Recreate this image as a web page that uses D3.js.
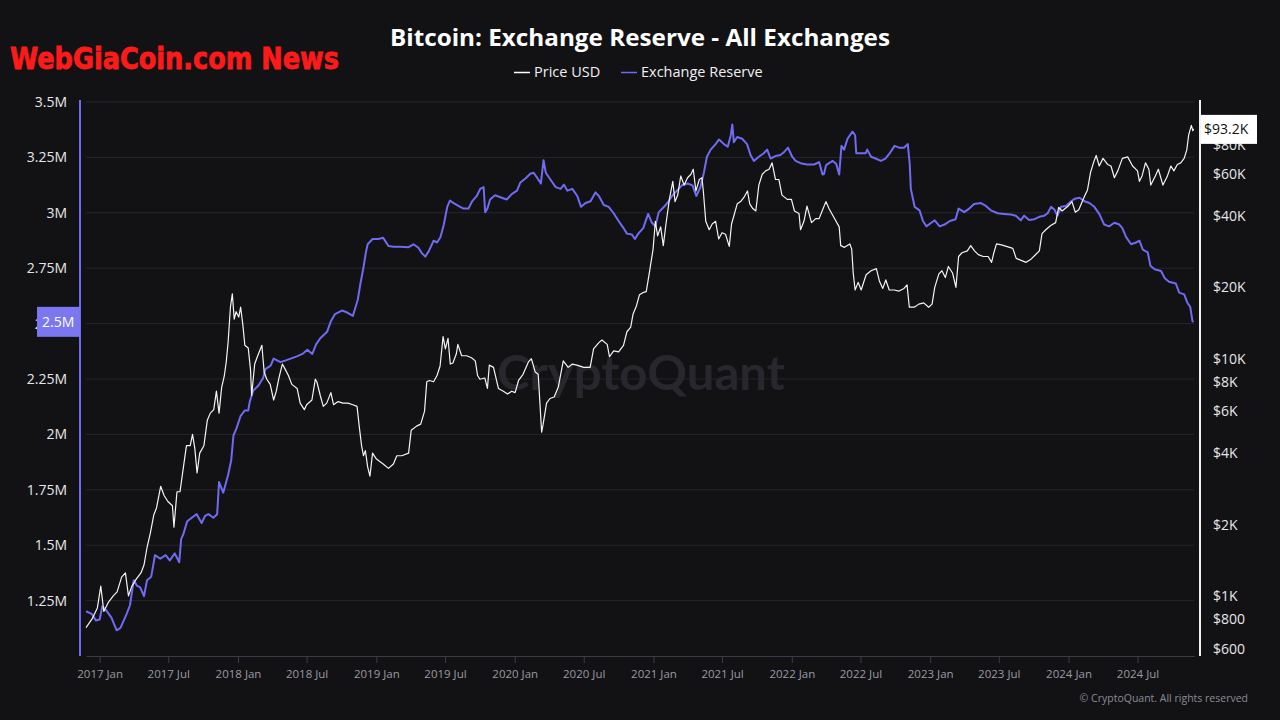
<!DOCTYPE html>
<html><head><meta charset="utf-8">
<script src="https://cdn.jsdelivr.net/npm/d3@7"></script>
<style>
html,body{margin:0;padding:0;background:#121215;}
svg{display:block;font-family:"Open Sans","Noto Sans",sans-serif;}
</style>
</head><body><svg id="chart" width="1280" height="720"></svg>
<script>
// ---------------- DATA ----------------
const reserveDates = ["2016-11-26","2016-12-12","2016-12-22","2017-01-01","2017-01-08","2017-01-19","2017-02-01","2017-02-15","2017-02-25","2017-03-13","2017-03-22","2017-04-01","2017-04-09","2017-04-18","2017-04-28","2017-05-06","2017-05-17","2017-05-27","2017-06-10","2017-06-24","2017-07-05","2017-07-18","2017-07-30","2017-08-04","2017-08-10","2017-08-20","2017-09-01","2017-09-14","2017-09-27","2017-10-06","2017-10-15","2017-10-28","2017-11-07","2017-11-12","2017-11-23","2017-12-06","2017-12-14","2017-12-20","2017-12-28","2018-01-08","2018-01-19","2018-01-28","2018-02-01","2018-02-10","2018-02-24","2018-03-08","2018-03-14","2018-03-28","2018-04-05","2018-04-23","2018-05-07","2018-05-20","2018-06-07","2018-06-20","2018-07-03","2018-07-16","2018-07-26","2018-08-06","2018-08-24","2018-09-03","2018-09-14","2018-10-02","2018-10-15","2018-10-31","2018-11-06","2018-11-13","2018-11-20","2018-11-28","2018-12-04","2018-12-09","2018-12-22","2019-01-06","2019-01-19","2019-02-02","2019-02-15","2019-03-05","2019-03-27","2019-04-09","2019-04-22","2019-05-01","2019-05-10","2019-05-19","2019-06-01","2019-06-10","2019-06-19","2019-06-28","2019-07-07","2019-07-14","2019-07-24","2019-08-02","2019-08-10","2019-08-19","2019-09-01","2019-09-10","2019-09-23","2019-10-02","2019-10-11","2019-10-15","2019-10-21","2019-10-28","2019-11-10","2019-11-28","2019-12-11","2019-12-24","2020-01-07","2020-01-16","2020-01-30","2020-02-11","2020-02-20","2020-03-01","2020-03-10","2020-03-17","2020-03-23","2020-04-05","2020-04-18","2020-05-01","2020-05-10","2020-05-19","2020-06-01","2020-06-14","2020-06-24","2020-07-06","2020-07-19","2020-08-01","2020-08-10","2020-08-23","2020-09-05","2020-09-18","2020-10-01","2020-10-14","2020-10-23","2020-11-05","2020-11-13","2020-11-22","2020-12-05","2020-12-18","2020-12-28","2021-01-06","2021-01-15","2021-01-29","2021-02-10","2021-02-19","2021-03-04","2021-03-17","2021-04-01","2021-04-14","2021-04-24","2021-05-05","2021-05-14","2021-05-22","2021-06-01","2021-06-14","2021-06-23","2021-07-06","2021-07-16","2021-07-24","2021-07-28","2021-08-01","2021-08-10","2021-08-23","2021-09-05","2021-09-14","2021-09-23","2021-10-06","2021-10-19","2021-10-28","2021-11-06","2021-11-19","2021-12-02","2021-12-11","2021-12-22","2022-01-02","2022-01-11","2022-01-24","2022-02-10","2022-03-01","2022-03-14","2022-03-23","2022-03-27","2022-04-01","2022-04-06","2022-04-19","2022-04-28","2022-05-06","2022-05-12","2022-05-19","2022-05-28","2022-06-10","2022-06-17","2022-06-20","2022-07-02","2022-07-15","2022-07-19","2022-07-29","2022-08-10","2022-08-24","2022-09-05","2022-09-18","2022-09-29","2022-10-11","2022-10-24","2022-11-03","2022-11-08","2022-11-11","2022-11-15","2022-11-21","2022-12-04","2022-12-13","2022-12-22","2023-01-04","2023-01-13","2023-01-26","2023-02-08","2023-02-22","2023-03-09","2023-03-17","2023-04-01","2023-04-14","2023-04-27","2023-05-15","2023-05-28","2023-06-10","2023-06-28","2023-07-15","2023-08-02","2023-08-15","2023-08-28","2023-09-06","2023-09-19","2023-10-03","2023-10-16","2023-10-29","2023-11-07","2023-11-16","2023-11-25","2023-12-03","2023-12-12","2023-12-25","2024-01-08","2024-01-17","2024-01-30","2024-02-12","2024-02-25","2024-03-09","2024-03-22","2024-04-04","2024-04-17","2024-05-01","2024-05-14","2024-05-22","2024-06-01","2024-06-14","2024-06-27","2024-07-06","2024-07-15","2024-07-28","2024-08-04","2024-08-15","2024-09-01","2024-09-11","2024-09-22","2024-10-10","2024-10-19","2024-11-01","2024-11-10","2024-11-17","2024-11-23","2024-11-26"];
const reserveValues = [1.202,1.189,1.160,1.165,1.224,1.205,1.173,1.116,1.127,1.189,1.229,1.342,1.318,1.310,1.270,1.342,1.358,1.455,1.439,1.455,1.431,1.463,1.423,1.527,1.551,1.608,1.624,1.640,1.600,1.632,1.640,1.624,1.640,1.785,1.737,1.818,1.882,1.995,2.027,2.084,2.108,2.108,2.148,2.197,2.221,2.253,2.294,2.310,2.342,2.326,2.334,2.342,2.353,2.363,2.382,2.363,2.406,2.434,2.463,2.511,2.543,2.559,2.551,2.535,2.568,2.608,2.681,2.753,2.818,2.858,2.882,2.882,2.887,2.850,2.847,2.847,2.845,2.858,2.842,2.818,2.802,2.826,2.874,2.866,2.890,2.947,3.027,3.055,3.044,3.035,3.027,3.019,3.019,3.050,3.076,3.108,3.116,3.003,3.019,3.060,3.079,3.068,3.060,3.084,3.100,3.137,3.156,3.176,3.181,3.156,3.132,3.237,3.181,3.148,3.116,3.108,3.127,3.100,3.108,3.076,3.027,3.044,3.052,3.092,3.076,3.035,3.027,2.998,2.963,2.931,2.906,2.902,2.882,2.906,2.931,2.995,2.955,2.939,3.003,3.027,3.052,3.076,3.100,3.124,3.132,3.124,3.076,3.116,3.181,3.253,3.285,3.310,3.331,3.310,3.298,3.350,3.398,3.318,3.342,3.334,3.310,3.261,3.234,3.253,3.269,3.285,3.245,3.256,3.261,3.273,3.294,3.253,3.234,3.224,3.218,3.218,3.229,3.173,3.175,3.213,3.221,3.234,3.221,3.173,3.302,3.285,3.334,3.366,3.350,3.269,3.269,3.269,3.285,3.253,3.245,3.234,3.245,3.273,3.302,3.294,3.294,3.310,3.221,3.108,3.076,3.027,3.011,2.963,2.939,2.955,2.966,2.939,2.947,2.963,2.971,3.019,3.003,3.019,3.040,3.044,3.031,3.011,2.998,2.995,2.992,2.987,2.966,2.987,2.968,2.971,2.982,2.987,2.998,3.027,3.014,2.987,3.027,3.031,3.052,3.063,3.068,3.052,3.044,3.027,2.995,2.947,2.939,2.955,2.947,2.931,2.890,2.858,2.866,2.874,2.834,2.821,2.761,2.745,2.737,2.705,2.689,2.681,2.640,2.632,2.592,2.576,2.511,2.508];

const priceDates = ["2016-11-26","2016-12-12","2016-12-26","2017-01-04","2017-01-12","2017-01-24","2017-02-06","2017-02-16","2017-02-28","2017-03-10","2017-03-18","2017-03-27","2017-04-08","2017-04-20","2017-04-28","2017-05-06","2017-05-15","2017-05-24","2017-05-31","2017-06-11","2017-06-20","2017-06-30","2017-07-12","2017-07-16","2017-07-24","2017-08-01","2017-08-09","2017-08-18","2017-08-28","2017-09-03","2017-09-09","2017-09-15","2017-09-22","2017-10-03","2017-10-12","2017-10-20","2017-10-29","2017-11-05","2017-11-12","2017-11-19","2017-11-26","2017-12-01","2017-12-06","2017-12-12","2017-12-17","2017-12-22","2017-12-27","2018-01-03","2018-01-08","2018-01-14","2018-01-19","2018-01-28","2018-02-03","2018-02-06","2018-02-14","2018-02-22","2018-03-05","2018-03-11","2018-03-18","2018-03-27","2018-04-05","2018-04-12","2018-04-19","2018-04-28","2018-05-06","2018-05-14","2018-05-23","2018-06-06","2018-06-14","2018-06-25","2018-07-01","2018-07-15","2018-07-24","2018-07-28","2018-08-06","2018-08-14","2018-08-23","2018-09-03","2018-09-10","2018-09-22","2018-10-05","2018-10-18","2018-10-31","2018-11-11","2018-11-18","2018-11-23","2018-11-28","2018-12-03","2018-12-09","2018-12-15","2018-12-22","2018-12-31","2019-01-09","2019-01-19","2019-02-02","2019-02-15","2019-02-24","2019-03-09","2019-03-27","2019-04-03","2019-04-17","2019-04-28","2019-05-08","2019-05-14","2019-05-21","2019-06-01","2019-06-10","2019-06-18","2019-06-26","2019-07-02","2019-07-09","2019-07-15","2019-07-22","2019-07-31","2019-08-04","2019-08-14","2019-08-27","2019-09-09","2019-09-19","2019-09-25","2019-10-01","2019-10-14","2019-10-21","2019-10-26","2019-11-06","2019-11-19","2019-12-02","2019-12-13","2019-12-24","2020-01-02","2020-01-11","2020-01-23","2020-02-06","2020-02-14","2020-02-24","2020-03-03","2020-03-12","2020-03-16","2020-03-25","2020-04-03","2020-04-14","2020-04-25","2020-05-08","2020-05-21","2020-06-01","2020-06-13","2020-07-01","2020-07-18","2020-07-27","2020-08-10","2020-08-18","2020-09-01","2020-09-07","2020-09-18","2020-10-01","2020-10-14","2020-10-23","2020-11-02","2020-11-08","2020-11-17","2020-11-25","2020-12-04","2020-12-13","2020-12-22","2020-12-31","2021-01-06","2021-01-12","2021-01-20","2021-01-27","2021-02-03","2021-02-12","2021-02-21","2021-02-27","2021-03-06","2021-03-14","2021-03-23","2021-04-01","2021-04-10","2021-04-16","2021-04-23","2021-05-02","2021-05-09","2021-05-13","2021-05-19","2021-05-28","2021-06-05","2021-06-14","2021-06-22","2021-07-01","2021-07-10","2021-07-20","2021-07-26","2021-08-01","2021-08-10","2021-08-19","2021-08-28","2021-09-06","2021-09-12","2021-09-20","2021-09-28","2021-10-06","2021-10-15","2021-10-24","2021-11-02","2021-11-10","2021-11-19","2021-11-28","2021-12-06","2021-12-20","2021-12-31","2022-01-08","2022-01-20","2022-01-24","2022-02-02","2022-02-10","2022-02-22","2022-03-05","2022-03-14","2022-03-22","2022-04-01","2022-04-09","2022-04-20","2022-05-06","2022-05-10","2022-05-20","2022-06-03","2022-06-08","2022-06-12","2022-06-17","2022-06-25","2022-07-03","2022-07-16","2022-07-29","2022-08-12","2022-08-20","2022-08-29","2022-09-06","2022-09-15","2022-09-28","2022-10-11","2022-10-24","2022-11-01","2022-11-07","2022-11-20","2022-12-02","2022-12-15","2022-12-28","2023-01-06","2023-01-13","2023-01-24","2023-02-01","2023-02-10","2023-02-18","2023-03-01","2023-03-10","2023-03-17","2023-03-26","2023-04-09","2023-04-18","2023-04-28","2023-05-08","2023-05-21","2023-06-03","2023-06-12","2023-06-18","2023-06-25","2023-07-08","2023-07-21","2023-08-07","2023-08-16","2023-08-29","2023-09-11","2023-09-24","2023-10-07","2023-10-16","2023-10-23","2023-11-02","2023-11-15","2023-11-28","2023-12-06","2023-12-15","2024-01-01","2024-01-10","2024-01-19","2024-01-28","2024-02-11","2024-02-20","2024-02-28","2024-03-08","2024-03-14","2024-03-22","2024-04-01","2024-04-13","2024-04-22","2024-05-01","2024-05-10","2024-05-22","2024-06-05","2024-06-18","2024-07-01","2024-07-06","2024-07-13","2024-07-22","2024-07-31","2024-08-05","2024-08-17","2024-08-25","2024-09-06","2024-09-17","2024-09-27","2024-10-05","2024-10-14","2024-10-23","2024-11-01","2024-11-08","2024-11-13","2024-11-20","2024-11-24","2024-11-26"];
const priceValues = [735,800,890,1100,860,940,1000,1040,1200,1250,1000,1100,1180,1250,1350,1600,1850,2200,2350,2900,2650,2500,2400,1950,2750,2750,3400,4300,4300,4800,4200,3300,4000,4300,5500,5900,6100,7300,5900,7600,8500,9700,11800,16500,18800,14700,15800,15000,16500,13800,11400,11100,9000,7000,9500,10300,11400,8800,8200,7800,6700,7300,8300,9500,9000,8500,7800,7500,6500,6100,6400,6700,8200,8000,7000,6300,6500,7200,6400,6600,6500,6500,6400,6300,5000,4300,3900,4100,3500,3200,4000,3800,3700,3600,3450,3600,3900,3900,4000,5000,5200,5300,6000,8000,8100,8000,8500,9300,12400,11000,12200,9500,9600,10500,11500,10300,10300,10100,9800,8500,8200,8300,7500,9400,9200,7500,7300,7100,7300,7200,8100,8600,9700,10000,8800,8600,4900,5300,6500,6800,6900,7600,9800,9200,9500,9400,9200,9200,11000,11700,12000,11500,10200,10800,10700,11400,13000,13600,15400,16700,18600,19000,19200,23500,29000,38000,33000,36000,30000,37000,47000,56000,46000,49000,59000,54000,58000,60000,63000,51000,57000,58000,50000,38000,35000,37000,38000,32000,34000,33500,29800,37000,40000,45000,46000,48000,51000,45000,43000,42000,54000,60000,62000,63000,67000,57000,57000,49000,47000,47000,42000,41000,35000,38000,44000,37500,39000,39000,42000,46000,43000,40000,36000,30000,29500,30500,29000,23000,19500,21000,19500,22600,23500,24000,21300,19800,21500,19500,19500,19300,19800,20500,16500,16500,17000,17200,16500,17000,20000,22800,23500,22000,24500,23000,20000,27000,28000,28500,30000,28500,27500,27000,27000,25500,28000,30500,30200,29800,29200,26500,26000,25500,26300,27600,28500,33700,35000,36500,37500,43500,42000,44200,46000,41500,42500,48000,51500,61000,68000,72000,65000,70000,66000,65000,58000,62000,70000,71000,65000,62000,56000,59000,67000,63000,54000,59000,63000,54000,58500,65000,62000,66000,67000,70000,76000,88000,96500,91500,93200];

const reserveTicks = [1.25,1.5,1.75,2,2.25,2.5,2.75,3,3.25,3.5];
const priceTicks = [600,800,1000,2000,4000,6000,8000,10000,20000,40000,60000,80000];
const timeTicks = ["2017-01-01","2017-07-01","2018-01-01","2018-07-01","2019-01-01","2019-07-01","2020-01-01","2020-07-01","2021-01-01","2021-07-01","2022-01-01","2022-07-01","2023-01-01","2023-07-01","2024-01-01","2024-07-01"];
const seriesNames = ["Price USD","Exchange Reserve"];

// ---------------- CHART ----------------
const parse = d3.utcParse("%Y-%m-%d");
const svg = d3.select("#chart");
const W = 1280, H = 720;
const plot = {left: 86, right: 1194, top: 102, bottom: 656};
const BLUE = "#6f6bf3", BG = "#121215";

svg.append("rect").attr("width", W).attr("height", H).attr("fill", BG);

const x = d3.scaleUtc()
  .domain([parse("2016-11-26"), parse("2024-11-27")])
  .range([plot.left, plot.right]);
const yL = d3.scaleLinear().domain([1.0, 3.5]).range([plot.bottom, plot.top]);
const yR = d3.scaleLog().domain([558, 121000]).range([plot.bottom, plot.top]);

// grid
svg.append("g").selectAll("line").data(reserveTicks).join("line")
  .attr("x1", plot.left).attr("x2", plot.right)
  .attr("y1", d => yL(d)).attr("y2", d => yL(d))
  .attr("stroke", "#25252b").attr("stroke-width", 1);

// watermark
svg.append("text").attr("x", 641).attr("y", 390).attr("text-anchor", "middle")
  .attr("font-family", "Lato, 'Open Sans', sans-serif").attr("font-weight", 700)
  .attr("font-size", 48).attr("fill", "#27272d")
  .attr("textLength", 288).attr("lengthAdjust", "spacingAndGlyphs")
  .text("CryptoQuant");

// bottom axis
const xAxis = d3.axisBottom(x)
  .tickValues(timeTicks.map(parse))
  .tickFormat(d3.utcFormat("%Y %b"))
  .tickSize(7).tickSizeOuter(0);
const gx = svg.append("g").attr("transform", `translate(0,${plot.bottom})`).call(xAxis);
gx.select(".domain").attr("stroke", "#3c3c46");
gx.selectAll(".tick line").attr("stroke", "#3c3c46");
gx.selectAll(".tick text").attr("fill", "#9a9aa2").attr("font-size", 11.5)
  .attr("font-family", "'Open Sans', sans-serif").attr("dy", "1.05em");

// left axis
const yAxisL = d3.axisLeft(yL).tickValues(reserveTicks).tickFormat(d => d + "M").tickSize(0);
const gl = svg.append("g").attr("transform", "translate(80,0)").call(yAxisL);
gl.select(".domain").remove();
gl.selectAll(".tick text").attr("fill", "#e6e6e6").attr("font-size", 14)
  .attr("font-family", "'Open Sans', sans-serif").attr("x", -13);
svg.append("line").attr("x1", 80).attr("x2", 80).attr("y1", 100).attr("y2", plot.bottom)
  .attr("stroke", BLUE).attr("stroke-width", 2);

// right axis
const fmtPrice = v => v >= 1000 ? "$" + (v / 1000) + "K" : "$" + v;
const yAxisR = d3.axisRight(yR).tickValues(priceTicks).tickFormat(fmtPrice).tickSize(0);
const gr = svg.append("g").attr("transform", "translate(1200,0)").call(yAxisR);
gr.select(".domain").remove();
gr.selectAll(".tick text").attr("fill", "#e6e6e6").attr("font-size", 14)
  .attr("font-family", "'Open Sans', sans-serif").attr("x", 13);
svg.append("line").attr("x1", 1200).attr("x2", 1200).attr("y1", 100).attr("y2", plot.bottom)
  .attr("stroke", "#f2f2f2").attr("stroke-width", 2);

// lines
const reserve = reserveDates.map((d, i) => ({t: parse(d), v: reserveValues[i]}));
const price = priceDates.map((d, i) => ({t: parse(d), v: priceValues[i]}));

svg.append("path").datum(reserve)
  .attr("d", d3.line().x(d => x(d.t)).y(d => yL(d.v)))
  .attr("fill", "none").attr("stroke", BLUE).attr("stroke-width", 2).attr("stroke-linejoin", "round");
svg.append("path").datum(price)
  .attr("d", d3.line().x(d => x(d.t)).y(d => yR(d.v)))
  .attr("fill", "none").attr("stroke", "#f4f4f4").attr("stroke-width", 1.2).attr("stroke-linejoin", "round");

// last value badges
const lastR = reserve[reserve.length - 1];
const yr = yL(lastR.v);
svg.append("rect").attr("x", 37).attr("y", yr - 15).attr("width", 43).attr("height", 30).attr("fill", "#7a77f0");
svg.append("text").attr("x", 42).attr("y", yr + 5).attr("fill", "#ffffff").attr("font-size", 14)
  .text(d3.format(".1f")(lastR.v) + "M");

const lastP = price[price.length - 1];
const yp = yR(lastP.v);
svg.append("rect").attr("x", 1201).attr("y", yp - 14).attr("width", 56).attr("height", 29).attr("fill", "#ffffff");
svg.append("text").attr("x", 1204).attr("y", yp + 5).attr("fill", "#111").attr("font-size", 14)
  .text("$" + d3.format(".1f")(lastP.v / 1000) + "K");

// title
svg.append("text").attr("x", 640).attr("y", 46).attr("text-anchor", "middle")
  .attr("fill", "#ffffff").attr("font-weight", 700).attr("font-size", 23)
  .attr("textLength", 500).attr("lengthAdjust", "spacingAndGlyphs")
  .text("Bitcoin: Exchange Reserve - All Exchanges");

// legend
const legendItems = [{name: seriesNames[0], color: "#ffffff", x: 514}, {name: seriesNames[1], color: BLUE, x: 621}];
const lg = svg.append("g").selectAll("g").data(legendItems).join("g");
lg.append("line").attr("x1", d => d.x).attr("x2", d => d.x + 16).attr("y1", 72.5).attr("y2", 72.5)
  .attr("stroke", d => d.color).attr("stroke-width", 1.5);
lg.append("text").attr("x", d => d.x + 20).attr("y", 77).attr("fill", "#f0f0f0").attr("font-size", 14.5)
  .text(d => d.name);

// site watermark
svg.append("text").attr("x", 10).attr("y", 69).attr("fill", "#ff1a1a")
  .attr("font-family", "'DejaVu Sans', sans-serif").attr("font-weight", 700)
  .style("font-stretch", "condensed")
  .attr("font-size", 31).attr("textLength", 329).attr("lengthAdjust", "spacingAndGlyphs")
  .attr("stroke", "#ff1a1a").attr("stroke-width", 0.8)
  .text("WebGiaCoin.com News");

// footer
svg.append("text").attr("x", 1248).attr("y", 702).attr("text-anchor", "end")
  .attr("fill", "#8c8c94").attr("font-size", 10.5)
  .text("© CryptoQuant. All rights reserved");
</script>
</body></html>
